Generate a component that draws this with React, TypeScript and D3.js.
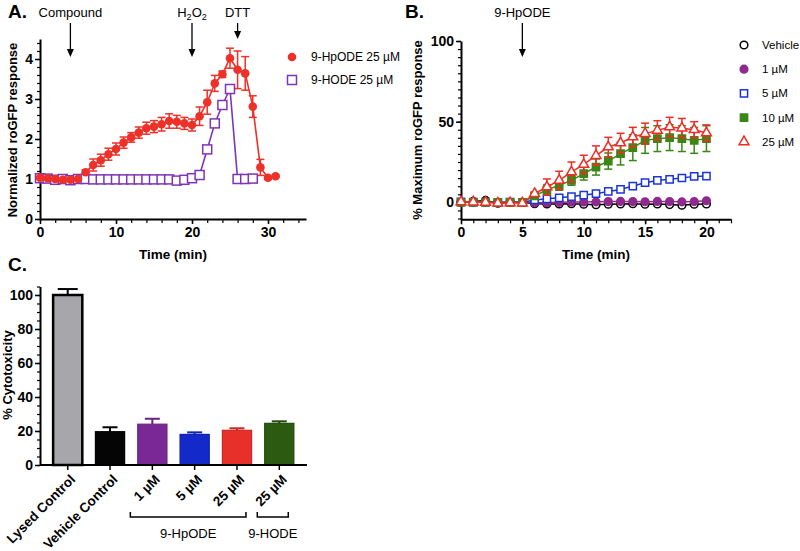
import React, { useEffect, useRef } from "react";
import * as d3 from "d3";

const FONT = "'Liberation Sans', Arial, Helvetica, sans-serif";

// ---- panel A: roGFP time course, 25 µM
const timeA = [0, 1, 2, 3, 4, 5, 6, 7, 8, 9, 10, 11, 12, 13, 14, 15, 16, 17, 18, 19, 20, 21, 22, 23, 24, 25, 26, 27, 28, 29, 30, 31];
const hpodeA = [1.03, 1.02, 1.0, 0.98, 0.98, 1.0, 1.17, 1.35, 1.47, 1.62, 1.75, 1.91, 2.04, 2.16, 2.27, 2.31, 2.37, 2.45, 2.43, 2.39, 2.35, 2.57, 2.92, 3.39, 3.62, 4.02, 3.73, 3.64, 2.81, 1.29, 1.03, 1.07];
const hpodeErrA = [0.04, 0.04, 0.03, 0.03, 0.03, 0.03, 0.06, 0.15, 0.15, 0.15, 0.15, 0.14, 0.12, 0.14, 0.15, 0.15, 0.17, 0.18, 0.16, 0.15, 0.15, 0.23, 0.3, 0.2, 0.08, 0.25, 0.47, 0.42, 0.27, 0.2, 0.04, 0.03];
const timeHodeA = [0, 1, 2, 3, 4, 5, 6, 7, 8, 9, 10, 11, 12, 13, 14, 15, 16, 17, 18, 19, 20, 21, 22, 23, 24, 25, 26, 27, 28];
const hodeA = [1.02, 1.01, 0.98, 1.0, 0.97, 1.0, 1.0, 0.99, 0.99, 0.99, 0.99, 0.99, 0.99, 0.99, 0.99, 0.99, 0.99, 0.99, 0.96, 0.98, 1.02, 1.1, 1.74, 2.39, 2.85, 3.25, 1.0, 1.0, 1.01];
const eventLabelsA = ["Compound", "H2O2", "DTT"];
const eventTimesA = [4, 20, 26];
const legendA = ["9-HpODE 25 µM", "9-HODE 25 µM"];

// ---- panel B: dose response
const timeB = [0, 1, 2, 3, 4, 5, 6, 7, 8, 9, 10, 11, 12, 13, 14, 15, 16, 17, 18, 19, 20];
const vehicleB = [0, 0.6, 1.2, -0.5, 0, 0, -0.8, -1.0, -1.0, -0.8, -1.2, -1.5, -1.2, -1.0, -0.8, -1.2, -1.0, -1.4, -1.8, -1.2, -1.0];
const oneB = [0, 0, 0, 0, 0, 0, -0.3, -0.2, 0, 0.2, 0.2, 0.3, 0.5, 0.6, 0.5, 0.4, 0.6, 0.5, 0.3, 0.5, 1.0];
const fiveB = [0.3, 0.2, 0.1, -0.2, 0.2, 0, 1.5, 2.2, 2.8, 3.6, 4.5, 5.4, 6.8, 8.0, 10.1, 12.2, 13.6, 14.3, 15.1, 16.1, 16.3];
const tenB = [0, 0, 0, 0, 0, 0, 4.0, 7.8, 10.5, 13.6, 17.8, 21.9, 25.6, 30.2, 33.9, 38.4, 39.5, 40.1, 39.5, 38.4, 39.5];
const tenErrB = [0, 0, 0, 0, 0, 0, 2, 3, 3, 3, 4, 5, 5, 7, 8, 8, 8, 8, 8, 8, 8];
const twentyFiveB = [0.3, 0.2, 0, -0.5, -0.3, -0.5, 5.4, 9.5, 13.6, 18.8, 23.5, 29, 34.3, 36.8, 40.5, 42.6, 44.6, 46.7, 46, 45, 43];
const twentyFiveErrB = [0.5, 0.5, 0.5, 0.5, 0.5, 0.5, 1, 5, 5.7, 6.2, 5.7, 6, 6, 6, 6, 6.5, 6, 6, 6, 5, 5];
const legendB = ["Vehicle", "1 µM", "5 µM", "10 µM", "25 µM"];
const eventTimeB = 5;

// ---- panel C: cytotoxicity
const labelsC = ["Lysed Control", "Vehicle Control", "1 µM", "5 µM", "25 µM", "25 µM"];
const valuesC = [100, 19.6, 24, 18, 20.4, 24.5];
const errC = [3.5, 2.6, 3.2, 1.2, 1.2, 1.2];
const colorsC = ["#a6a6ab", "#050505", "#7a2896", "#1329c9", "#e8302a", "#2b5a10"];
const groupNamesC = ["9-HpODE", "9-HODE"];
const groupFromC = [2, 5];
const groupToC = [4, 5];

const RED = "#ee3128";
const PURPLE = "#7d35b5";

function styleAxis(g: any, size = 14) {
  g.select(".domain").attr("stroke", "#000").attr("stroke-width", 2);
  g.selectAll(".tick line").attr("stroke", "#000").attr("stroke-width", 1.5);
  g.selectAll("text")
    .attr("font-family", FONT)
    .attr("font-weight", "bold")
    .attr("font-size", size)
    .attr("fill", "#000");
}

function minor(g: any) {
  g.select(".domain").remove();
  g.selectAll(".tick line").attr("stroke", "#000").attr("stroke-width", 1.2);
}

function errorBars(g: any, xs: number[], ys: number[], es: number[], x: any, y: any, color: string, cap: number) {
  xs.forEach((t, i) => {
    const e = es[i];
    if (!e) return;
    const cx = x(t);
    const y0 = y(ys[i] - e);
    const y1 = y(ys[i] + e);
    g.append("line").attr("x1", cx).attr("x2", cx).attr("y1", y0).attr("y2", y1).attr("stroke", color).attr("stroke-width", 1.5);
    [y0, y1].forEach((yy) =>
      g.append("line").attr("x1", cx - cap / 2).attr("x2", cx + cap / 2).attr("y1", yy).attr("y2", yy).attr("stroke", color).attr("stroke-width", 1.5)
    );
  });
}

function arrow(svg: any, x: number, y0: number, y1: number) {
  svg.append("line").attr("x1", x).attr("x2", x).attr("y1", y0).attr("y2", y1 - 6).attr("stroke", "#000").attr("stroke-width", 1.3);
  svg.append("path").attr("d", `M${x - 3.5},${y1 - 8} L${x + 3.5},${y1 - 8} L${x},${y1} Z`).attr("fill", "#000");
}

const fmt = d3.format("d");

const App = () => {
  const svgRef = useRef<SVGSVGElement>(null);

  useEffect(() => {
    const svg = d3.select(svgRef.current);
    svg.selectAll("*").remove();

    const label = (x: number, y: number, text: string, size: number, weight = "normal", anchor = "start") =>
      svg.append("text").attr("x", x).attr("y", y).attr("font-family", FONT).attr("font-size", size)
        .attr("font-weight", weight).attr("text-anchor", anchor).attr("fill", "#000").text(text);

    // ================= Panel A =================
    const xA = d3.scaleLinear().domain([0, 35]).range([40, 306]);
    const yA = d3.scaleLinear().domain([0, 4.5]).range([219, 39]);

    svg.append("g").attr("transform", "translate(0,219)")
      .call(d3.axisBottom(xA).tickValues(d3.range(0, 35, 2)).tickSize(4).tickFormat(() => "")).call(minor);
    svg.append("g").attr("transform", "translate(0,219)")
      .call(d3.axisBottom(xA).tickValues([0, 10, 20, 30]).tickFormat(fmt).tickSize(5).tickSizeOuter(0).tickPadding(3)).call((g: any) => styleAxis(g));
    svg.append("g").attr("transform", `translate(${xA(0)},0)`)
      .call(d3.axisLeft(yA).tickValues(d3.range(0, 4.45, 0.2)).tickSize(3).tickFormat(() => "")).call(minor);
    svg.append("g").attr("transform", `translate(${xA(0)},0)`)
      .call(d3.axisLeft(yA).tickValues([0, 1, 2, 3, 4]).tickFormat(fmt).tickSize(5).tickSizeOuter(0).tickPadding(2)).call((g: any) => styleAxis(g));

    label(8, 18, "A.", 19, "bold");
    label(173, 259, "Time (min)", 13.5, "bold", "middle");
    svg.append("text").attr("transform", "translate(17,130) rotate(-90)").attr("text-anchor", "middle")
      .attr("font-family", FONT).attr("font-size", 13).attr("font-weight", "bold").text("Normalized roGFP response");

    eventLabelsA.forEach((name, i) => {
      const ex = xA(eventTimesA[i]);
      if (name === "H2O2") {
        const t = svg.append("text").attr("x", ex).attr("y", 17).attr("font-family", FONT).attr("font-size", 13).attr("text-anchor", "middle");
        t.append("tspan").text("H");
        t.append("tspan").attr("font-size", 9).attr("dy", 3).text("2");
        t.append("tspan").attr("dy", -3).text("O");
        t.append("tspan").attr("font-size", 9).attr("dy", 3).text("2");
      } else {
        label(ex, 17, name, 13, "normal", "middle");
      }
      arrow(svg, ex, 23, name === "DTT" ? 39 : 57);
    });

    const lineA = d3.line<number>().x((d, i) => xA(timeA[i])).y((d) => yA(d));
    const lineHode = d3.line<number>().x((d, i) => xA(timeHodeA[i])).y((d) => yA(d));

    const gA = svg.append("g");
    errorBars(gA, timeA, hpodeA, hpodeErrA, xA, yA, RED, 8);
    gA.append("path").attr("d", lineA(hpodeA)).attr("fill", "none").attr("stroke", RED).attr("stroke-width", 1.6);
    gA.append("path").attr("d", lineHode(hodeA)).attr("fill", "none").attr("stroke", PURPLE).attr("stroke-width", 1.6);
    gA.selectAll(".hode").data(hodeA).join("rect").attr("class", "hode")
      .attr("x", (d, i) => xA(timeHodeA[i]) - 4.5).attr("y", (d) => yA(d) - 4.5)
      .attr("width", 9).attr("height", 9).attr("fill", "#fff").attr("stroke", PURPLE).attr("stroke-width", 1.5);
    gA.selectAll(".hpode").data(hpodeA).join("circle").attr("class", "hpode")
      .attr("cx", (d, i) => xA(timeA[i])).attr("cy", (d) => yA(d)).attr("r", 4.3).attr("fill", RED);

    // legend A
    svg.append("circle").attr("cx", 292).attr("cy", 57).attr("r", 4.3).attr("fill", RED);
    svg.append("rect").attr("x", 287.5).attr("y", 75.5).attr("width", 9).attr("height", 9).attr("fill", "#fff").attr("stroke", PURPLE).attr("stroke-width", 1.5);
    legendA.forEach((t, i) => label(311, 61 + i * 23, t, 12));

    // ================= Panel B =================
    const xB = d3.scaleLinear().domain([0, 22]).range([461, 731]);
    const yB = d3.scaleLinear().domain([-10.5, 100]).range([219.3, 41]);

    svg.append("g").attr("transform", `translate(0,${yB(-10.5)})`)
      .call(d3.axisBottom(xB).tickValues(d3.range(0, 22.1, 1)).tickSize(4).tickFormat(() => "")).call(minor);
    svg.append("g").attr("transform", `translate(0,${yB(-10.5)})`)
      .call(d3.axisBottom(xB).tickValues([0, 5, 10, 15, 20]).tickFormat(fmt).tickSize(5).tickSizeOuter(0).tickPadding(3)).call((g: any) => styleAxis(g));
    svg.append("g").attr("transform", `translate(${xB(0)},0)`)
      .call(d3.axisLeft(yB).tickValues(d3.range(-10, 100.1, 5)).tickSize(3).tickFormat(() => "")).call(minor);
    svg.append("g").attr("transform", `translate(${xB(0)},0)`)
      .call(d3.axisLeft(yB).tickValues([0, 50, 100]).tickFormat(fmt).tickSize(5).tickSizeOuter(0).tickPadding(2)).call((g: any) => styleAxis(g));

    label(405, 18, "B.", 19, "bold");
    label(596, 259, "Time (min)", 13.5, "bold", "middle");
    svg.append("text").attr("transform", "translate(422,130) rotate(-90)").attr("text-anchor", "middle")
      .attr("font-family", FONT).attr("font-size", 13).attr("font-weight", "bold").text("% Maximum roGFP response");
    label(xB(eventTimeB), 17, "9-HpODE", 13, "normal", "middle");
    arrow(svg, xB(eventTimeB), 23, 57);

    const seriesB = [
      { vals: vehicleB, err: null, color: "#000", shape: "circle", fill: "#fff" },
      { vals: oneB, err: null, color: "#8e2a8e", shape: "circle", fill: "#8e2a8e" },
      { vals: fiveB, err: null, color: "#1a35d9", shape: "square", fill: "#fff" },
      { vals: tenB, err: tenErrB, color: "#3b8716", shape: "square", fill: "#3b8716" },
      { vals: twentyFiveB, err: twentyFiveErrB, color: "#ee2d24", shape: "triangle", fill: "#fff" },
    ];
    const lineB = d3.line<number>().x((d, i) => xB(timeB[i])).y((d) => yB(d));
    const symbolOf = (shape: string) =>
      shape === "circle" ? d3.symbol(d3.symbolCircle, 46) : shape === "square" ? d3.symbol(d3.symbolSquare, 52) : d3.symbol(d3.symbolTriangle, 42);

    seriesB.forEach((s) => {
      const g = svg.append("g");
      if (s.err) errorBars(g, timeB, s.vals, s.err, xB, yB, s.color, 8);
      g.append("path").attr("d", lineB(s.vals)).attr("fill", "none").attr("stroke", s.color).attr("stroke-width", 1.5);
      g.selectAll("path.pt").data(s.vals).join("path").attr("class", "pt")
        .attr("transform", (d, i) => `translate(${xB(timeB[i])},${yB(d)})`)
        .attr("d", symbolOf(s.shape)() as string)
        .attr("fill", s.fill).attr("stroke", s.color).attr("stroke-width", 1.5);
    });

    seriesB.forEach((s, i) => {
      const cy = 45 + i * 24.2;
      svg.append("path").attr("transform", `translate(744,${cy})`).attr("d", symbolOf(s.shape)() as string)
        .attr("fill", s.fill).attr("stroke", s.color).attr("stroke-width", 1.5);
      label(762, cy + 4, legendB[i], 11.5);
    });

    // ================= Panel C =================
    const idx = labelsC.map((d, i) => i);
    const xC = d3.scaleBand<number>().domain(idx).range([40, 307]).paddingInner(0.31).paddingOuter(0.31);
    const yC = d3.scaleLinear().domain([0, 105]).range([465, 286.5]);

    svg.append("g").attr("transform", `translate(40,0)`)
      .call(d3.axisLeft(yC).tickValues(d3.range(0, 105.1, 5)).tickSize(3).tickFormat(() => "")).call(minor);
    svg.append("g").attr("transform", `translate(40,0)`)
      .call(d3.axisLeft(yC).tickValues([0, 20, 40, 60, 80, 100]).tickFormat(fmt).tickSize(5).tickSizeOuter(0).tickPadding(2)).call((g: any) => styleAxis(g));

    const gC = svg.append("g");
    idx.forEach((i) => {
      const bx = xC(i) as number;
      const bw = xC.bandwidth();
      const cx = bx + bw / 2;
      const lysed = i === 0;
      const stroke = lysed ? "#000" : d3.color(colorsC[i])!.darker(0.4).toString();
      const top = yC(valuesC[i] + errC[i]);
      const cap = lysed ? 20 : 15;
      gC.append("line").attr("x1", cx).attr("x2", cx).attr("y1", yC(valuesC[i])).attr("y2", top).attr("stroke", stroke).attr("stroke-width", 2);
      gC.append("line").attr("x1", cx - cap / 2).attr("x2", cx + cap / 2).attr("y1", top).attr("y2", top).attr("stroke", stroke).attr("stroke-width", 2);
      gC.append("rect").attr("x", bx).attr("y", yC(valuesC[i])).attr("width", bw).attr("height", yC(0) - yC(valuesC[i]))
        .attr("fill", colorsC[i]).attr("stroke", stroke).attr("stroke-width", lysed ? 2.5 : 1.2);
    });

    const xAxisC = svg.append("g").attr("transform", "translate(0,465)");
    xAxisC.append("line").attr("x1", 40).attr("x2", 307).attr("stroke", "#000").attr("stroke-width", 2);
    idx.forEach((i) => {
      const cx = (xC(i) as number) + xC.bandwidth() / 2;
      xAxisC.append("line").attr("x1", cx).attr("x2", cx).attr("y1", 0).attr("y2", 5).attr("stroke", "#000").attr("stroke-width", 1.5);
      svg.append("text").attr("transform", `translate(${cx + 5},${477}) rotate(-45)`).attr("text-anchor", "end")
        .attr("dy", "0.35em").attr("font-family", FONT).attr("font-size", 13.5).attr("font-weight", "bold").text(labelsC[i]);
    });

    groupNamesC.forEach((name, k) => {
      const x0 = (xC(groupFromC[k]) as number) + xC.bandwidth() / 2 - 22;
      const x1 = (xC(groupToC[k]) as number) + xC.bandwidth() / 2 + 9;
      svg.append("path").attr("d", `M${x0},512 L${x0},517 L${x1},517 L${x1},512`).attr("fill", "none").attr("stroke", "#000").attr("stroke-width", 1.5);
      label((x0 + x1) / 2, 538, name, 13, "normal", "middle");
    });

    label(8, 271, "C.", 19, "bold");
    svg.append("text").attr("transform", "translate(12,375) rotate(-90)").attr("text-anchor", "middle")
      .attr("font-family", FONT).attr("font-size", 13).attr("font-weight", "bold").text("% Cytotoxicity");
  }, []);

  return (
    <div style={{ position: "absolute", left: 0, top: 0 }}>
      <svg ref={svgRef} width={800} height={551} style={{ display: "block", background: "#fff" }}></svg>
    </div>
  );
};

export default App;
